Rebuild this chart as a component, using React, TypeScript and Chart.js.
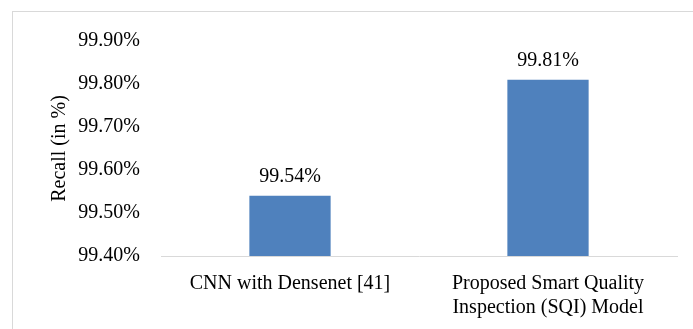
import React, { useEffect, useRef } from "react";
import { Chart, registerables } from "chart.js";

Chart.register(...registerables);

// Recall comparison between the baseline and the proposed model
const categories: string[][] = [
  ["CNN with Densenet [41]"],
  ["Proposed Smart Quality", "Inspection (SQI) Model"],
];
const recallValues: number[] = [99.54, 99.81];
const axisMin = 99.4;
const axisMax = 99.9;
const axisStep = 0.1;
const axisTitle = "Recall (in %)";

const FONT = "'Liberation Serif', 'Times New Roman', serif";
const BAR_COLOR = "#4f81bd";
const TEXT_COLOR = "#000000";

const valueLabels = {
  id: "valueLabels",
  afterDatasetsDraw(chart: Chart) {
    const { ctx } = chart;
    const meta = chart.getDatasetMeta(0);
    const data = chart.data.datasets[0].data as number[];
    ctx.save();
    ctx.font = `20px ${FONT}`;
    ctx.fillStyle = TEXT_COLOR;
    ctx.textAlign = "center";
    ctx.textBaseline = "alphabetic";
    meta.data.forEach((el: any, i: number) => {
      ctx.fillText(`${data[i].toFixed(2)}%`, el.x, el.y - 14);
    });
    ctx.restore();
  },
};

export default function App() {
  const canvasRef = useRef<HTMLCanvasElement | null>(null);

  useEffect(() => {
    if (!canvasRef.current) return;
    const chart = new Chart(canvasRef.current, {
      type: "bar",
      data: {
        labels: categories,
        datasets: [
          {
            data: recallValues,
            backgroundColor: BAR_COLOR,
            borderWidth: 0,
            categoryPercentage: 1,
            barPercentage: 0.315,
          },
        ],
      },
      options: {
        animation: false,
        responsive: false,
        devicePixelRatio: 1,
        layout: { padding: { top: 41, right: 16, left: 0, bottom: 0 } },
        plugins: {
          legend: { display: false },
          tooltip: { enabled: false },
        },
        scales: {
          x: {
            grid: { display: false, drawTicks: false },
            border: { display: true, color: "#d9d9d9", width: 1 },
            ticks: {
              padding: 16,
              color: TEXT_COLOR,
              font: { family: FONT, size: 20 },
              maxRotation: 0,
              autoSkip: false,
            },
            afterFit: (scale: any) => {
              scale.height = 73;
            },
          },
          y: {
            min: axisMin,
            max: axisMax,
            grid: { display: false, drawTicks: false },
            border: { display: false },
            ticks: {
              stepSize: axisStep,
              padding: 21,
              color: TEXT_COLOR,
              font: { family: FONT, size: 20 },
              callback: (v: any) => `${Number(v).toFixed(2)}%`,
            },
            title: {
              display: true,
              text: axisTitle,
              color: TEXT_COLOR,
              font: { family: FONT, size: 20 },
              padding: { top: 48, bottom: 0 },
            },
            afterFit: (scale: any) => {
              scale.width = 161;
            },
          },
        },
      },
      plugins: [valueLabels],
    });
    return () => chart.destroy();
  }, []);

  return (
    <div
      style={{
        position: "fixed",
        left: 0,
        top: 0,
        width: 693,
        height: 329,
        overflow: "hidden",
        background: "#ffffff",
      }}
    >
      <div
        style={{
          position: "absolute",
          left: 12,
          top: 11,
          width: 720,
          height: 360,
          border: "1px solid #d9d9d9",
        }}
      />
      <canvas
        ref={canvasRef}
        width={693}
        height={329}
        style={{ position: "absolute", left: 0, top: 0, width: 693, height: 329 }}
      />
    </div>
  );
}
